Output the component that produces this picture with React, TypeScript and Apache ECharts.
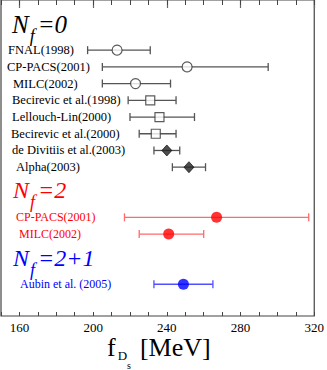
import React, { useEffect, useRef } from "react";
import * as echarts from "echarts";

// ---- data ----
const nf0Labels = [
  "FNAL(1998)",
  "CP-PACS(2001)",
  "MILC(2002)",
  "Becirevic et al.(1998)",
  "Lellouch-Lin(2000)",
  "Becirevic et al.(2000)",
  "de Divitiis et al.(2003)",
  "Alpha(2003)",
];
const nf0Central = [213, 251, 223, 231, 236, 234, 240, 252];
const nf0Low = [197, 205, 205, 219, 220, 225, 233, 243];
const nf0High = [231, 295, 242, 245, 255, 245, 247, 261];
const nf0Rows = [3, 4, 5, 6, 7, 8, 9, 10];
const nf0Markers = ["circle", "circle", "circle", "square", "square", "square", "diamond", "diamond"];

const nf2Labels = ["CP-PACS(2001)", "MILC(2002)"];
const nf2Central = [267, 241];
const nf2Low = [217, 225];
const nf2High = [317, 260];
const nf2Rows = [13, 14];

const nf21Labels = ["Aubin et al. (2005)"];
const nf21Central = [249];
const nf21Low = [233];
const nf21High = [265];
const nf21Rows = [17];

const xTickLabels = [160, 200, 240, 280, 320];

// ---- layout (pixels) ----
const nf0LabelLeft = [8, 7, 13, 12, 12, 11, 12, 16];
const nf2LabelLeft = [16, 19];
const nf21LabelLeft = [20];

const SERIF = "Liberation Serif";

function errorSeries(
  labels: string[],
  lows: number[],
  highs: number[],
  rows: number[],
  lefts: number[],
  lineColor: string,
  textColor: string,
  fontSize: number
) {
  const data = labels.map((_, i) => [lows[i], highs[i], rows[i], i]);
  return {
    type: "custom",
    xAxisIndex: 0,
    yAxisIndex: 0,
    z: 2,
    clip: false,
    data,
    renderItem: (params: any, api: any) => {
      const lo = api.value(0);
      const hi = api.value(1);
      const r = api.value(2);
      const idx = api.value(3);
      const p1 = api.coord([lo, r]);
      const p2 = api.coord([hi, r]);
      const cap = 4;
      const ls = { stroke: lineColor, lineWidth: 1.3 };
      return {
        type: "group",
        children: [
          { type: "line", shape: { x1: p1[0], y1: p1[1], x2: p2[0], y2: p2[1] }, style: ls },
          { type: "line", shape: { x1: p1[0], y1: p1[1] - cap, x2: p1[0], y2: p1[1] + cap }, style: ls },
          { type: "line", shape: { x1: p2[0], y1: p2[1] - cap, x2: p2[0], y2: p2[1] + cap }, style: ls },
          {
            type: "text",
            style: {
              text: labels[idx],
              x: lefts[idx],
              y: p1[1],
              fill: textColor,
              fontFamily: SERIF,
              fontSize,
              verticalAlign: "middle",
              align: "left",
            },
          },
        ],
      };
    },
  };
}

function pick<T>(arr: T[], mask: boolean[]) {
  return arr.filter((_, i) => mask[i]);
}

// N_f = ... header as one rich text, f lowered as a subscript
function header(x: number, top: number, rhs: string, size: number, color: string) {
  const base = {
    fontFamily: SERIF,
    fontStyle: "italic",
    fontSize: size,
    lineHeight: size,
    verticalAlign: "top",
    fill: color,
    color,
  };
  return {
    type: "text",
    x,
    y: top,
    style: {
      text: `{n|N}{f|f}{e|${rhs}}`,
      verticalAlign: "top",
      align: "left",
      fill: color,
      rich: {
        n: base,
        f: {
          ...base,
          fontSize: 18,
          lineHeight: 14,
          padding: [15, 3, 0, 1],
        },
        e: base,
      },
    },
  };
}

export default function App() {
  const ref = useRef<HTMLDivElement>(null);

  useEffect(() => {
    if (!ref.current) return;
    const chart = echarts.init(ref.current, undefined, { renderer: "svg" });

    const maskOf = (k: string) => nf0Markers.map((m) => m === k);
    const pts = (centrals: number[], rows: number[]) => centrals.map((c, i) => [c, rows[i]]);

    const nf0Pts = pts(nf0Central, nf0Rows);
    const circlePts = pick(nf0Pts, maskOf("circle"));
    const squarePts = pick(nf0Pts, maskOf("square"));
    const diamondPts = pick(nf0Pts, maskOf("diamond"));

    const axisCommon = {
      type: "value",
      min: 150,
      max: 320,
      gridIndex: 0,
      axisLine: { show: false },
      splitLine: { show: false },
    };

    const titleBase = {
      fontFamily: SERIF,
      fill: "#000",
      color: "#000",
      verticalAlign: "top",
    };

    const option: any = {
      animation: false,
      backgroundColor: "#ffffff",
      textStyle: { fontFamily: SERIF },
      grid: {
        left: 1,
        right: 11,
        top: 0,
        bottom: 54,
        show: true,
        borderColor: "#444",
        borderWidth: 1.2,
        backgroundColor: "transparent",
      },
      xAxis: [
        {
          ...axisCommon,
          position: "bottom",
          axisTick: {
            inside: true,
            length: 8,
            customValues: xTickLabels,
            lineStyle: { color: "#666", width: 1.2 },
          },
          axisLabel: {
            customValues: xTickLabels,
            fontFamily: SERIF,
            fontSize: 13,
            color: "#000",
            margin: 5,
          },
        },
        {
          ...axisCommon,
          position: "bottom",
          interval: 10,
          axisTick: { inside: true, length: 4, lineStyle: { color: "#444" } },
          axisLabel: { show: false },
        },
        {
          ...axisCommon,
          position: "top",
          axisTick: {
            inside: true,
            length: 8,
            customValues: xTickLabels,
            lineStyle: { color: "#666", width: 1.2 },
          },
          axisLabel: { show: false },
        },
        {
          ...axisCommon,
          position: "top",
          interval: 10,
          axisTick: { inside: true, length: 5, lineStyle: { color: "#444" } },
          axisLabel: { show: false },
        },
      ],
      yAxis: [
        {
          type: "value",
          inverse: true,
          min: 0,
          max: 18.9,
          show: false,
        },
      ],
      series: [
        errorSeries(nf0Labels, nf0Low, nf0High, nf0Rows, nf0LabelLeft, "#555", "#000", 12.5),
        errorSeries(nf2Labels, nf2Low, nf2High, nf2Rows, nf2LabelLeft, "#ff6a6a", "#ff0000", 12),
        errorSeries(nf21Labels, nf21Low, nf21High, nf21Rows, nf21LabelLeft, "#5050ff", "#0000ff", 12),
        {
          type: "scatter",
          z: 5,
          symbol: "circle",
          symbolSize: 10,
          itemStyle: { color: "#fff", borderColor: "#333", borderWidth: 1.2 },
          data: circlePts,
        },
        {
          type: "scatter",
          z: 5,
          symbol: "rect",
          symbolSize: 9,
          itemStyle: { color: "#fff", borderColor: "#333", borderWidth: 1.2 },
          data: squarePts,
        },
        {
          type: "scatter",
          z: 5,
          symbol: "diamond",
          symbolSize: [10, 11],
          itemStyle: { color: "#222", borderColor: "#000", borderWidth: 0.8 },
          data: diamondPts,
        },
        {
          type: "scatter",
          z: 5,
          symbol: "circle",
          symbolSize: 11,
          itemStyle: { color: "#ff0000" },
          data: pts(nf2Central, nf2Rows),
        },
        {
          type: "scatter",
          z: 5,
          symbol: "circle",
          symbolSize: 11,
          itemStyle: { color: "#0000ff" },
          data: pts(nf21Central, nf21Rows),
        },
      ],
      graphic: [
        header(12, 11.5, "=0", 25, "#000"),
        header(13, 178, "=2", 24, "#ff0000"),
        header(13, 246, "=2+1", 24, "#0000ff"),
        {
          type: "text",
          x: 107,
          y: 334,
          style: {
            text: "{f|f}{d|D}{s|s}{m|[MeV]}",
            verticalAlign: "top",
            align: "left",
            fill: "#000",
            rich: {
              f: { ...titleBase, fontSize: 26, lineHeight: 20 },
              d: { ...titleBase, fontSize: 13, lineHeight: 13, padding: [15, 0, 0, 2] },
              s: { ...titleBase, fontSize: 10, lineHeight: 10, padding: [26, 0, 0, 0] },
              m: { ...titleBase, fontSize: 26, lineHeight: 20, padding: [0, 0, 0, 9] },
            },
          },
        },
      ],
    };

    chart.setOption(option);
    return () => chart.dispose();
  }, []);

  return (
    <div
      ref={ref}
      style={{ position: "fixed", left: 0, top: 0, width: 327, height: 370 }}
    />
  );
}
